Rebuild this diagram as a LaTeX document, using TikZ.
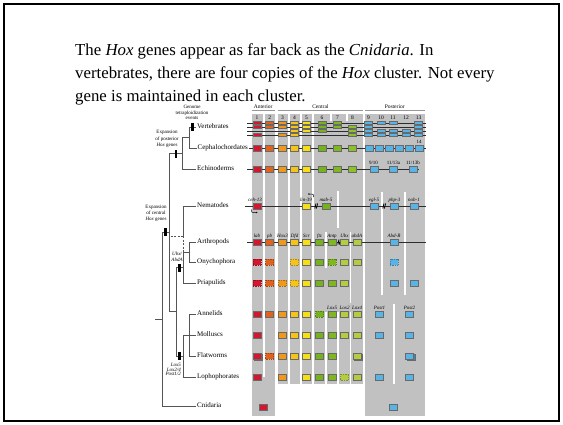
\documentclass[tikz,border=0pt]{standalone}
\usepackage{fontspec}
\setmainfont{Liberation Serif}
\usetikzlibrary{arrows.meta}

\definecolor{colgray}{RGB}{193,193,193}
\definecolor{treeline}{RGB}{85,85,85}
\definecolor{clusterline}{RGB}{45,45,45}
\definecolor{barline}{RGB}{150,150,150}
\definecolor{boxedge}{RGB}{105,105,105}
\definecolor{hxlab}{RGB}{212,22,46}
\definecolor{hxpb}{RGB}{224,98,28}
\definecolor{hxthree}{RGB}{238,152,28}
\definecolor{hxdfd}{RGB}{246,196,24}
\definecolor{hxscr}{RGB}{247,222,22}
\definecolor{hxsix}{RGB}{118,178,28}
\definecolor{hxseven}{RGB}{126,184,30}
\definecolor{hxeight}{RGB}{142,192,40}
\definecolor{hxubx}{RGB}{178,206,64}
\definecolor{hxpost}{RGB}{88,180,230}

% colours of the deuterostome paralogue groups 1-13
\colorlet{hc1}{hxlab}\colorlet{hc2}{hxpb}\colorlet{hc3}{hxthree}\colorlet{hc4}{hxdfd}
\colorlet{hc5}{hxscr}\colorlet{hc6}{hxsix}\colorlet{hc7}{hxseven}\colorlet{hc8}{hxeight}
\colorlet{hc9}{hxpost}\colorlet{hc10}{hxpost}\colorlet{hc11}{hxpost}\colorlet{hc12}{hxpost}
\colorlet{hc13}{hxpost}
% colours of the protostome columns: lab pb Hox3 Dfd Scr ftz Antp Ubx abdA AbdB Post1 Post2 Post2'
\colorlet{lc1}{hxlab}\colorlet{lc2}{hxpb}\colorlet{lc3}{hxthree}\colorlet{lc4}{hxdfd}
\colorlet{lc5}{hxscr}\colorlet{lc6}{hxsix}\colorlet{lc7}{hxseven}\colorlet{lc8}{hxubx}
\colorlet{lc9}{hxubx}\colorlet{lc10}{hxpost}\colorlet{lc11}{hxpost}\colorlet{lc12}{hxpost}
\colorlet{lc13}{hxpost}

% column centres
\def\hxlist{{0,257,269.7,282.5,294.5,306.5,322,337.5,352.5,368.5,381,393,406,418.5}}
\def\lxlist{{0,257,269.7,282.5,294.5,306.5,319.5,332,344.5,357,394,379.5,409.5,414}}

% one protostome row: name, y, solid boxes, dashed boxes, doubled boxes (0 = none)
\newcommand\prow[5]{%
  \foreach \n in {#3}{\ifnum\n>0 \pgfmathsetmacro\xx{\lxlist[\n]}\node[gene=lc\n] (#1s\n) at (\xx,#2) {};\fi}%
  \foreach \n in {#4}{\ifnum\n>0 \pgfmathsetmacro\xx{\lxlist[\n]}\node[unsure=lc\n] (#1d\n) at (\xx,#2) {};\fi}%
  \foreach \n in {#5}{\ifnum\n>0 \pgfmathsetmacro\xx{\lxlist[\n]}\node[ghost=lc\n] (#1g\n) at (\xx+1.3,#2+1.3) {};\node[gene=lc\n] (#1w\n) at (\xx,#2) {};\fi}%
}

\begin{document}
\begin{tikzpicture}[x=1pt,y=-1pt,
  cluster/.style={draw=clusterline, line width=0.75pt},
  tree/.style={draw=treeline, line width=0.8pt},
  gene/.style={draw=boxedge, line width=0.55pt, fill=#1, minimum width=8pt, minimum height=6pt, inner sep=0pt},
  vgene/.style={gene=#1, minimum height=3.2pt, line width=0.45pt},
  unsure/.style={draw=#1!70!black, fill=#1, dash pattern=on 1pt off 0.7pt, line width=0.6pt, minimum width=8pt, minimum height=6pt, inner sep=0pt},
  ghost/.style={draw=boxedge, line width=0.55pt, fill=#1!75!black, minimum width=8pt, minimum height=6pt, inner sep=0pt},
  taxon/.style={anchor=west, inner xsep=1pt, inner ysep=0pt, text height=4.8pt, text depth=1.4pt, font=\fontsize{7}{8}\selectfont},
  note/.style={align=center, inner sep=0pt, font=\fontsize{5}{5.2}\selectfont},
  glabel/.style={inner sep=0pt, font=\fontsize{5}{6}\selectfont\itshape},
  nlabel/.style={inner sep=0pt, font=\fontsize{5}{6}\selectfont},
  hnum/.style={inner sep=0pt, font=\fontsize{5.5}{6}\selectfont},
  hxtick/.style={fill=black, minimum width=2.3pt, minimum height=8pt, inner sep=0pt},
  bodytext/.style={anchor=base west, inner sep=0pt, font=\fontsize{16.8}{20}\selectfont},
  brk/.style={draw=black, line width=0.8pt},
]
\useasboundingbox (0,0) rectangle (563,424);
\fill[white] (0,0) rectangle (563,424);
\draw[line width=2pt] (3.5,4) rectangle (559,420.5);

% heading text
\node[bodytext] (t1) at (75,55.5) {The \textit{Hox} genes appear as far back as the \textit{Cnidaria}. In};
\node[bodytext] (t2) at (75,78.5) {vertebrates, there are four copies of the \textit{Hox} cluster. Not every};
\node[bodytext, text depth=0pt] (t3) at (75,101) {gene is maintained in each cluster.};

% grey homology columns
\fill[colgray] (251.5,113.5) rectangle (275,416);
\fill[colgray] (277.5,113.5) rectangle (363.3,383.5);
\fill[colgray] (365,113.5) rectangle (424.5,416);
\fill[white] (262.5,113.5) rectangle (264.5,377);
\fill[white] (287.5,113.5) rectangle (289.5,383.5);
\fill[white] (299.5,113.5) rectangle (301.5,383.5);
\fill[white] (311.7,113.5) rectangle (314,383.5);
\fill[white] (330.3,113.5) rectangle (331.7,121);
\fill[white] (346.3,113.5) rectangle (347.7,121);
\fill[white] (337,191) rectangle (339,228);
\fill[white] (324.8,232) rectangle (326.6,268);
\fill[white] (349.6,232) rectangle (351.4,303);
\fill[white] (324.8,312) rectangle (326.6,383.5);
\fill[white] (337.3,312) rectangle (339.1,383.5);
\fill[white] (349.6,312) rectangle (351.4,383.5);
\fill[white] (380.5,192) rectangle (382.5,295);
\fill[white] (403.5,192) rectangle (405.5,295);
\fill[white] (392.5,304) rectangle (394.5,383.5);

% column headers
\draw[barline, line width=1.4pt] (251.5,110.3) -- (275,110.3);
\draw[barline, line width=1.4pt] (277.5,110.3) -- (363.3,110.3);
\draw[barline, line width=1.4pt] (365,110.3) -- (424.5,110.3);
\node[hnum] (hAnt) at (263.2,107) {Anterior};
\node[hnum] (hCen) at (320.4,107) {Central};
\node[hnum] (hPos) at (394.7,107) {Posterior};
\foreach \n in {1,...,13}{\pgfmathsetmacro\xx{\hxlist[\n]}\node[hnum] (num\n) at (\xx,117.3) {\n};}

% tree labels
\node[taxon] (vert) at (196,127) {Vertebrates};
\node[taxon] (ceph) at (196.5,148) {Cephalochordates};
\node[taxon] (echi) at (196,169) {Echinoderms};
\node[taxon] (nema) at (196,206) {Nematodes};
\node[taxon] (arth) at (196,242) {Arthropods};
\node[taxon] (onyc) at (196,262) {Onychophora};
\node[taxon] (pria) at (196,283) {Priapulids};
\node[taxon] (anne) at (196,314) {Annelids};
\node[taxon] (moll) at (196,335) {Molluscs};
\node[taxon] (flat) at (196,356) {Flatworms};
\node[taxon] (loph) at (196,377) {Lophophorates};
\node[taxon] (cnid) at (196,406) {Cnidaria};

% tree: internal nodes
\coordinate (chordN) at (189,137.5);
\coordinate (deutN) at (182,153.5);
\coordinate (bilN) at (169,232);
\coordinate (rootN) at (162,319);
\coordinate (rootS) at (155,319);
\coordinate (protN) at (176,311);
\coordinate (ecdN) at (183,267.5);
\coordinate (artN) at (189,252);
\coordinate (lophN) at (183,356);
\coordinate (spirN) at (189,335);
\coordinate (nemaJ) at (183,236);

\draw[tree] (chordN) |- (vert.west);
\draw[tree] (chordN) |- (ceph.west);
\draw[tree] (deutN) |- (chordN);
\draw[tree] (deutN) |- (echi.west);
\draw[tree] (bilN) |- (deutN);
\draw[tree] (bilN) |- (protN);
\draw[tree] (rootN) |- (bilN);
\draw[tree] (rootN) |- (cnid.west);
\draw[tree] (rootS) -- (rootN);
\draw[tree] (protN) |- (ecdN);
\draw[tree] (protN) |- (lophN);
\draw[tree] (ecdN) |- (artN);
\draw[tree] (ecdN) |- (pria.west);
\draw[tree] (artN) |- (arth.west);
\draw[tree] (artN) |- (onyc.west);
\draw[tree] (lophN) |- (spirN);
\draw[tree] (lophN) |- (loph.west);
\draw[tree] (spirN) |- (anne.west);
\draw[tree] (spirN) -- (moll.west);
\draw[tree] (spirN) |- (flat.west);
\draw[tree] (nemaJ) |- (nema.west);
\draw[tree, dash pattern=on 2pt off 1.5pt] (nemaJ) -- (nemaJ -| bilN);
\draw[tree, dash pattern=on 2pt off 1.5pt] (nemaJ) -- (nemaJ |- artN);

% events on the tree
\node[hxtick] (tkVert) at (192.5,127) {};
\node[hxtick] (tkPost) at (176,153.5) {};
\node[hxtick] (tkCent) at (165.5,232) {};
\node[hxtick] (tkUbx) at (179.5,267.5) {};
\node[hxtick] (tkLox) at (179.5,356) {};
\node[note] (nGen) at (192,112.5) {Genome\\tetraploidization\\events};
\node[note, font=\fontsize{5}{6.2}\selectfont] (nPost) at (167,139) {Expansion\\of posterior\\\textit{Hox} genes};
\node[note, font=\fontsize{5}{6.2}\selectfont] (nCent) at (156,213.5) {Expansion\\of central\\\textit{Hox} genes};
\node[note, font=\fontsize{5}{5.8}\selectfont\itshape] (nUbx) at (177,257) {Ubx/\\AbdA};
\node[note, align=right, anchor=east, font=\fontsize{5}{4.8}\selectfont\itshape] (nLox) at (181,369.5) {Lox5\\Lox2/4\\Post1/2};

% vertebrate Hox clusters A-D
\foreach \r/\y/\lst in {a/123/{1,2,3,4,5,6,7,9,10,11,13}, b/127/{1,2,3,4,5,6,7,8,9,13}, c/131/{4,5,6,8,9,10,11,12,13}, d/135/{1,3,4,8,9,10,11,12,13}}{
  \coordinate (vl\r) at (247,\y);
  \coordinate (vr\r) at (425.5,\y);
  \draw[cluster] (vl\r) -- (vr\r);
  \foreach \n in \lst {\pgfmathsetmacro\xx{\hxlist[\n]}\node[vgene=hc\n] (v\r\n) at (\xx,\y) {};}
}

% cephalochordate cluster
\coordinate (cephR) at (426,148);
\draw[cluster] (ceph.east) -- (cephR);
\foreach \n in {1,...,8}{\pgfmathsetmacro\xx{\hxlist[\n]}\node[gene=hc\n] (ce\n) at (\xx,148) {};}
\foreach \x [count=\k] in {369,379,389,399,409,419}{\node[gene=hxpost] (cp\k) at (\x,148) {};}
\node[nlabel] (l14) at (419,141.5) {14};

% echinoderm cluster
\coordinate (echiL) at (247,169);
\coordinate (echiR) at (419,169);
\draw[cluster] (echiL) -- (echiR);
\foreach \n in {1,...,8}{\pgfmathsetmacro\xx{\hxlist[\n]}\node[gene=hc\n] (ec\n) at (\xx,169) {};}
\node[gene=hxpost] (ep1) at (374,169) {};
\node[gene=hxpost] (ep2) at (393.5,169) {};
\node[gene=hxpost] (ep3) at (413,169) {};
\node[nlabel] (le1) at (373.5,162.5) {9/10};
\node[nlabel] (le2) at (393.5,162.5) {11/13a};
\node[nlabel] (le3) at (413,162.5) {11/13b};

% nematode cluster
\coordinate (nemaL) at (245,206);
\coordinate (nemaR) at (426,206);
\draw[cluster] (nemaL) -- (nemaR);
\node[gene=hxlab] (nm1) at (257,206) {};
\node[gene=hxscr] (nm2) at (306.5,206) {};
\node[gene=hxsix] (nm3) at (326,206) {};
\node[gene=hxpost] (nm4) at (374,206) {};
\node[gene=hxpost] (nm5) at (394.5,206) {};
\node[gene=hxpost] (nm6) at (414,206) {};
\node[glabel] (ln1) at (255,200) {ceh-13};
\node[glabel] (ln2) at (306,200) {lin-39};
\node[glabel] (ln3) at (326,200) {mab-5};
\node[glabel] (ln4) at (374,200) {egl-5};
\node[glabel] (ln5) at (394.5,200) {php-3};
\node[glabel] (ln6) at (414,200) {nob-1};
\draw[line width=0.5pt, -{Stealth[length=1.5pt,width=1.6pt]}] (251.5,209.5) .. controls (251.5,212.5) .. (254,212.5) -- (257.5,212.5);
\draw[line width=0.5pt, -{Stealth[length=1.5pt,width=1.6pt]}] (313.5,197) .. controls (313.5,194) .. (311,194) -- (308,194);
\draw[brk] (314.8,208.5) -- (316,203.5);
\draw[brk] (316.4,208.5) -- (317.6,203.5);
\draw[brk] (382.8,208.5) -- (384,203.5);
\draw[brk] (384.4,208.5) -- (385.6,203.5);

% arthropod cluster
\coordinate (arthL) at (247,242);
\coordinate (arthR) at (426,242);
\draw[cluster] (arthL) -- (arthR);
\draw[brk] (337.8,244.5) -- (339,239.5);
\draw[brk] (339.4,244.5) -- (340.6,239.5);
\prow{ar}{242}{1,2,3,4,5,6,7,8,9,10}{0}{0}
\foreach \n/\t in {1/lab,2/pb,3/Hox3,4/Dfd,5/Scr,6/ftz,7/Antp,8/Ubx,9/abdA,10/Abd-B}{\pgfmathsetmacro\xx{\lxlist[\n]}\node[glabel] (la\n) at (\xx,236) {\t};}

% remaining protostome rows
\prow{on}{262}{5,6,8,9}{1,2,4,7,10}{0}
\prow{pr}{283}{5,6,7,8,10,13}{1,2,3,4}{0}
\prow{an}{314}{1,2,3,4,5,7,8,9,11,12}{6}{0}
\prow{mo}{335}{1,3,4,5,6,7,8,9,11,12}{0}{0}
\prow{fl}{356}{3,4,5,6,7}{2}{1,9,12}
\prow{lo}{377}{1,3,5,6,7,9,11,12}{8}{0}
\node[glabel] (lx1) at (332,308) {Lox5};
\node[glabel] (lx2) at (344.5,308) {Lox2};
\node[glabel] (lx3) at (357,308) {Lox4};
\node[glabel] (lx4) at (379.5,308) {Post1};
\node[glabel] (lx5) at (409.5,308) {Post2};

% cnidarian genes
\node[gene=hxlab] (cn1) at (263,407) {};
\node[gene=hxpost] (cn2) at (393.5,407) {};
\end{tikzpicture}
\end{document}
